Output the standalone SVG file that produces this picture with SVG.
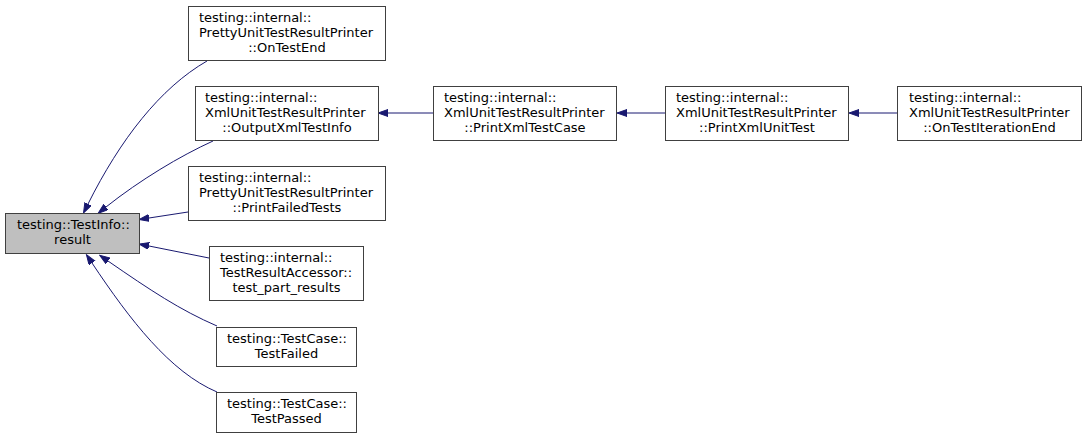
<svg xmlns="http://www.w3.org/2000/svg" width="1087" height="438" viewBox="0 0 1087 438">
<style>
  .box{fill:#ffffff;stroke:#404040;stroke-width:1}
  .hl{fill:#bfbfbf;stroke:#404040;stroke-width:1}
  text{font-family:"DejaVu Sans",sans-serif;font-size:13px;fill:#000000}
  .c{text-anchor:middle}
  .edge{fill:none;stroke:#191970;stroke-width:1;marker-end:url(#ah)}
</style>
<defs>
  <marker id="ah" markerUnits="userSpaceOnUse" markerWidth="11" markerHeight="8" refX="0" refY="3.5" orient="auto">
    <path d="M0,0 L10,3.5 L0,7 z" fill="#191970" stroke="#191970" stroke-width="1"/>
  </marker>
</defs>
<rect width="1087" height="438" fill="#ffffff"/>
<g id="edges">
  <path class="edge" d="M207,61 C160,88 120,140 88,204"/>
  <path class="edge" d="M213,141 C180,156 140,180 106,207"/>
  <path class="edge" d="M188,212 L149,218"/>
  <path class="edge" d="M209,258 L149,246"/>
  <path class="edge" d="M217,326 C180,310 150,290 108,261"/>
  <path class="edge" d="M217,392 C170,372 130,320 92,263"/>
  <path class="edge" d="M433,113 L388,113"/>
  <path class="edge" d="M665,113 L627,113"/>
  <path class="edge" d="M897,113 L859,113"/>
</g>
<g id="result">
  <rect class="hl" x="5.5" y="213.5" width="134" height="40"/>
  <text x="17" y="229">testing::TestInfo::</text>
  <text class="c" x="72.5" y="244">result</text>
</g>
<g id="onTestEnd">
  <rect class="box" x="188.5" y="6.5" width="197" height="54"/>
  <text x="199" y="22">testing::internal::</text>
  <text x="199" y="37">PrettyUnitTestResultPrinter</text>
  <text class="c" x="287" y="52">::OnTestEnd</text>
</g>
<g id="outputXmlTestInfo">
  <rect class="box" x="195.5" y="86.5" width="183" height="54"/>
  <text x="205" y="102">testing::internal::</text>
  <text x="205" y="117">XmlUnitTestResultPrinter</text>
  <text class="c" x="287" y="132">::OutputXmlTestInfo</text>
</g>
<g id="printFailedTests">
  <rect class="box" x="188.5" y="166.5" width="197" height="54"/>
  <text x="199" y="182">testing::internal::</text>
  <text x="199" y="197">PrettyUnitTestResultPrinter</text>
  <text class="c" x="287" y="212">::PrintFailedTests</text>
</g>
<g id="testPartResults">
  <rect class="box" x="209.5" y="246.5" width="154" height="54"/>
  <text x="220" y="262">testing::internal::</text>
  <text x="220" y="277">TestResultAccessor::</text>
  <text class="c" x="286.5" y="292">test_part_results</text>
</g>
<g id="testFailed">
  <rect class="box" x="216.5" y="327.5" width="140" height="39"/>
  <text x="227" y="343">testing::TestCase::</text>
  <text class="c" x="286.5" y="358">TestFailed</text>
</g>
<g id="testPassed">
  <rect class="box" x="216.5" y="392.5" width="140" height="40"/>
  <text x="227" y="408">testing::TestCase::</text>
  <text class="c" x="286.5" y="423">TestPassed</text>
</g>
<g id="printXmlTestCase">
  <rect class="box" x="433.5" y="86.5" width="183" height="54"/>
  <text x="444" y="102">testing::internal::</text>
  <text x="444" y="117">XmlUnitTestResultPrinter</text>
  <text class="c" x="525" y="132">::PrintXmlTestCase</text>
</g>
<g id="printXmlUnitTest">
  <rect class="box" x="665.5" y="86.5" width="183" height="54"/>
  <text x="676" y="102">testing::internal::</text>
  <text x="676" y="117">XmlUnitTestResultPrinter</text>
  <text class="c" x="757" y="132">::PrintXmlUnitTest</text>
</g>
<g id="onTestIterationEnd">
  <rect class="box" x="897.5" y="86.5" width="184" height="54"/>
  <text x="909" y="102">testing::internal::</text>
  <text x="909" y="117">XmlUnitTestResultPrinter</text>
  <text class="c" x="989.5" y="132">::OnTestIterationEnd</text>
</g>
</svg>
